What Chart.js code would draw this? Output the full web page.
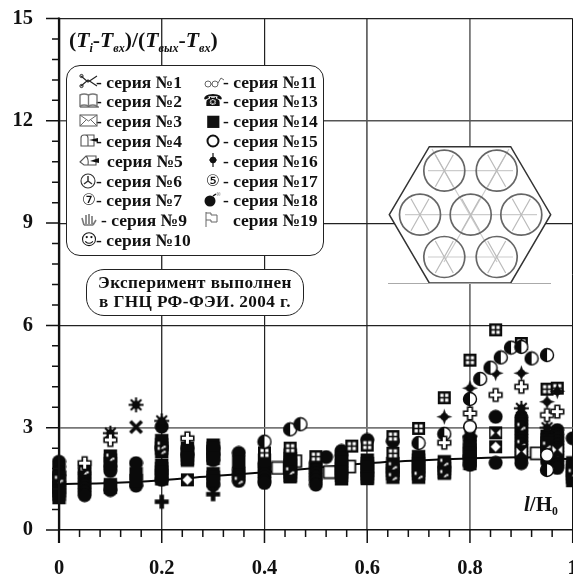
<!DOCTYPE html>
<html><head><meta charset="utf-8">
<script src="https://cdn.jsdelivr.net/npm/chart.js@4"></script>
<style>
html,body{margin:0;padding:0;background:#fff;width:573px;height:579px;overflow:hidden}
#wrap{position:relative;width:573px;height:579px;overflow:hidden;font-family:"Liberation Serif",serif;font-weight:bold;color:#111}
canvas{position:absolute;left:0;top:0}
.abs{position:absolute;white-space:nowrap}
.box{position:absolute;background:#fff;border:1.6px solid #222;box-sizing:border-box}
.lg{position:absolute;font-size:17.5px;line-height:20px;white-space:pre}
.ic{position:absolute;font-family:"DejaVu Sans";font-weight:normal;font-size:16px;line-height:20px;text-align:center}
sub{font-size:56%;line-height:0;vertical-align:-0.38em}
</style></head><body>
<div id="wrap"><canvas id="c" width="600" height="579"></canvas>
<svg class="abs" style="left:0;top:0" width="573" height="579" id="hex"></svg>
<div class="abs" style="left:69px;top:28px;font-size:21.7px;line-height:24px"><span id="ttl"></span></div>
<div class="box" id="legendBox" style="left:66px;top:65px;width:258px;height:191px;border-radius:14px"></div>
<div class="box" style="left:86px;top:269px;width:218px;height:47px;border-radius:18px;text-align:center;font-size:17.2px;line-height:18.5px;padding-top:4px;letter-spacing:.4px">Эксперимент выполнен<br>в ГНЦ РФ-ФЭИ. 2004 г.</div>
<div class="abs" style="left:524px;top:492px;font-size:21px;line-height:24px"><i>l</i>/H<sub>0</sub></div>
</div>
<script>
// ---- axis labels and ticks ----
const xMajor = [0, 0.2, 0.4, 0.6, 0.8, 1];
const xMinor = [0.04, 0.08, 0.12, 0.16, 0.24, 0.28, 0.32, 0.36, 0.44, 0.48, 0.52, 0.56, 0.64, 0.68, 0.72, 0.76, 0.84, 0.88, 0.92, 0.96];
const yMajor = [0, 3, 6, 9, 12, 15];
const yMinor = [0.6, 1.2, 1.8, 2.4, 3.6, 4.2, 4.8, 5.4, 6.6, 7.2, 7.8, 8.4, 9.6, 10.2, 10.8, 11.4, 12.6, 13.2, 13.8, 14.4];

// ---- series: [l/H0, value] ----
const trendLine = [[0,1.35],[0.1,1.38],[0.2,1.46],[0.3,1.58],[0.4,1.69],[0.5,1.82],[0.6,1.96],[0.7,2.04],[0.8,2.1],[0.9,2.13],[1,2.08]];
const filledCircles = [
 [0,2.0],[0,1.85],[0,1.7],[0,1.6],
 [0.05,1.82],[0.05,1.7],[0.05,1.62],[0.05,1.52],[0.05,1.42],[0.05,1.32],[0.05,1.22],[0.05,1.12],[0.05,1.02],
 [0.1,1.85],[0.1,1.73],[0.1,1.17],[0.15,1.96],[0.15,1.3],
 [0.2,3.03],[0.2,2.4],[0.2,1.47],
 [0.25,2.4],[0.25,2.2],[0.3,2.4],[0.3,2.2],[0.3,2.05],[0.3,1.32],
 [0.35,2.26],[0.35,1.76],[0.35,1.65],[0.35,1.55],[0.35,1.44],
 [0.4,1.94],[0.4,1.84],[0.4,1.74],[0.4,1.64],[0.4,1.54],[0.4,1.44],[0.4,1.38],
 [0.5,1.96],[0.5,1.86],[0.5,1.76],[0.5,1.66],[0.5,1.56],[0.5,1.46],[0.5,1.33],
 [0.52,2.14],[0.55,2.32],[0.55,2.2],[0.6,2.64],
 [0.65,2.6],[0.8,1.91],[0.8,2.15],[0.8,2.7],[0.85,1.97],[0.85,3.32],
 [0.9,3.3],[0.9,3.2],[0.9,3.1],[0.9,3.0],[0.9,2.9],[0.9,2.8],[0.9,2.7],[0.9,2.6],[0.9,2.5],[0.9,2.4],[0.9,2.3],[0.9,2.2],[0.9,2.1],[0.9,1.96],
 [0.95,2.0],
 [0.97,2.93],[0.97,2.8],[0.97,2.7],[0.97,2.6],[0.97,2.5],[0.97,2.4],[0.97,2.3],[0.97,2.2],[0.97,2.1],[0.97,2.0],[0.97,1.9],[0.97,1.82],
 [1,2.69]
];
const filledSquares = [
 [0,1.55],[0,1.45],[0,1.35],[0,1.25],[0,1.15],[0,1.05],[0,0.95],
 [0.1,2.17],[0.1,2.05],[0.1,1.95],[0.1,1.33],[0.1,1.25],[0.15,1.45],[0.15,1.65],
 [0.2,2.62],[0.2,2.5],[0.2,2.4],[0.2,2.3],[0.2,1.9],[0.2,1.8],[0.2,1.7],[0.2,1.6],[0.2,1.5],
 [0.25,2.4],[0.25,2.3],[0.25,2.2],[0.25,2.1],[0.25,2.05],
 [0.3,2.49],[0.3,2.4],[0.3,2.3],[0.3,2.2],[0.3,2.1],[0.3,1.65],[0.3,1.55],[0.3,1.45],
 [0.35,2.0],[0.4,2.05],
 [0.45,2.2],[0.45,2.1],[0.45,2.0],[0.45,1.9],[0.45,1.8],[0.45,1.7],[0.45,1.6],[0.45,1.56],
 [0.55,2.1],[0.55,2.0],[0.55,1.9],[0.55,1.8],[0.55,1.7],[0.55,1.6],[0.55,1.5],
 [0.6,2.05],[0.6,1.95],[0.6,1.85],[0.6,1.75],[0.6,1.65],[0.6,1.55],[0.6,1.51],
 [0.65,1.95],[0.65,1.85],[0.65,1.75],[0.65,1.65],[0.65,1.55],
 [0.7,2.15],[0.7,2.05],[0.7,1.95],[0.7,1.85],[0.7,1.75],[0.7,1.65],[0.7,1.55],
 [0.75,2.0],[0.75,1.9],[0.75,1.8],[0.75,1.7],[0.75,1.67],
 [0.8,2.55],[0.8,2.45],[0.8,2.35],[0.8,2.25],[0.8,2.15],[0.8,2.05],[0.8,1.95],
 [0.95,2.75],[0.95,2.65],[0.95,2.55],[0.95,2.45],[0.95,2.35],[0.95,2.3],
 [1,1.97],[1,1.85],[1,1.75],[1,1.65],[1,1.55],[1,1.45]
];
const speckMarks = [[0.05,1.75],[0.1,2.15],[0.2,2.5],[0.2,2.35],[0.35,1.47],[0.65,1.9],[0.65,1.58],[0.7,1.62],[0.75,2.0],[0.75,1.67],[0.9,3.05],[0.9,2.55],[0.95,2.5],[0.97,2.3],[1,1.7],[0,1.5],[0.45,1.75]];
const openSquares = [[0.426,1.82],[0.46,2.02],[0.527,1.7],[0.565,1.86],[0.93,2.25]];
const gridSquares = [[0.85,5.87],[0.9,5.47],[0.8,4.98],[0.75,3.88],[0.7,2.98],[0.95,4.13],[0.97,4.16],[0.65,2.74],[0.57,2.46],[0.5,2.15],[0.4,2.26],[0.45,2.4],[0.6,2.49],[0.65,2.25]];
const diamondSquares = [[0.85,2.44],[0.25,1.47]];
const bowSquares = [[0.85,2.85],[0.9,2.3],[0.97,2.35]];
const halfCircles = [[0.45,2.95],[0.47,3.1],[0.82,4.43],[0.84,4.76],[0.86,5.06],[0.88,5.35],[0.9,5.37],[0.92,5.03],[0.95,5.13],[0.8,3.84],[0.75,2.82],[0.7,2.55],[0.4,2.59],[0.95,1.76]];
const openCircles = [[0.8,3.03],[0.95,2.2]];
const sparkStars = [[0.8,4.16],[0.85,4.6],[0.9,4.6],[0.95,3.76],[0.75,3.32],[0.97,4.07]];
const openPlus = [[0.05,1.96],[0.1,2.64],[0.25,2.69],[0.75,2.56],[0.8,3.42],[0.85,3.96],[0.9,4.2],[0.95,3.37],[0.97,3.47]];
const solidPlus = [[0.2,0.83],[0.3,1.05]];
const asterisks = [[0.1,2.84],[0.15,3.67],[0.2,3.2],[0.9,3.57],[0.95,3.0],[0.8,2.75]];
const crosses = [[0.15,3.02]];

// ---- marker images (glyphs, not positions) ----
const INK = '#0a0a0a';
function sprite(w, paint){
  const s=document.createElement('canvas'); s.width=w; s.height=w;
  const g=s.getContext('2d'); g.translate(w/2,w/2); g.fillStyle=INK; g.strokeStyle=INK; paint(g); return s;
}
const mCircle = sprite(15,g=>{g.beginPath();g.arc(0,0,7,0,7);g.fill();});
const mSquare = sprite(15,g=>{g.fillRect(-6.7,-6.7,13.4,13.4);});
const mSpeck = sprite(15,g=>{g.fillStyle='#fff';g.fillRect(-4,-3,2,3);g.fillRect(2,1,2,2);g.beginPath();g.moveTo(-1,4);g.lineTo(2,1);g.lineTo(2,4);g.fill();});
const mOpenSq = sprite(15,g=>{g.fillStyle='#fff';g.fillRect(-6,-6,12,12);g.lineWidth=1.7;g.strokeRect(-6,-6,12,12);});
const mGridSq = sprite(15,g=>{g.fillRect(-6.5,-6.5,13,13);g.fillStyle='#fff';[-4,0.8].forEach(a=>[-4,0.8].forEach(b=>g.fillRect(a,b,3.2,3.2)));});
const mDiaSq = sprite(15,g=>{g.fillRect(-6.5,-6.5,13,13);g.fillStyle='#fff';g.beginPath();g.moveTo(0,-5);g.lineTo(5,0);g.lineTo(0,5);g.lineTo(-5,0);g.fill();});
const mBowSq = sprite(15,g=>{g.fillRect(-6.5,-6.5,13,13);g.fillStyle='#fff';g.beginPath();g.moveTo(-5,-4);g.lineTo(-1,0);g.lineTo(-5,4);g.fill();g.beginPath();g.moveTo(5,-4);g.lineTo(1,0);g.lineTo(5,4);g.fill();});
const mHalf = sprite(16,g=>{g.fillStyle='#fff';g.beginPath();g.arc(0,0,6.5,0,7);g.fill();g.lineWidth=1.4;g.stroke();g.fillStyle=INK;g.beginPath();g.arc(0,0,6.5,Math.PI/2,Math.PI*1.5);g.fill();});
const mOpenC = sprite(16,g=>{g.fillStyle='#fff';g.beginPath();g.arc(0,0,6.3,0,7);g.fill();g.lineWidth=1.6;g.stroke();});
const mSpark = sprite(17,g=>{g.beginPath();[[0,-8],[2,-2],[8,0],[2,2],[0,8],[-2,2],[-8,0],[-2,-2]].forEach((p,i)=>i?g.lineTo(p[0],p[1]):g.moveTo(p[0],p[1]));g.fill();g.beginPath();g.arc(0,0,3.8,0,7);g.fill();});
const plusPath=(g,a,b)=>{g.beginPath();[[-b,-a],[b,-a],[b,-b],[a,-b],[a,b],[b,b],[b,a],[-b,a],[-b,b],[-a,b],[-a,-b],[-b,-b]].forEach((p,i)=>i?g.lineTo(p[1],p[0]):g.moveTo(p[1],p[0]));g.closePath();};
const mOpenP = sprite(17,g=>{plusPath(g,6.3,2.3);g.fillStyle='#fff';g.fill();g.lineWidth=1.6;g.stroke();});
const mSolidP = sprite(17,g=>{plusPath(g,7,2.3);g.fill();});
const mStar = sprite(17,g=>{g.lineWidth=2;g.lineCap='butt';for(let a=0;a<4;a++){g.rotate(Math.PI/4);g.beginPath();g.moveTo(-7.5,0);g.lineTo(7.5,0);g.stroke();}g.beginPath();g.arc(0,0,4.2,0,7);g.fill();});
const mCross = sprite(17,g=>{g.lineWidth=3.6;g.rotate(Math.PI/4);g.beginPath();g.moveTo(-8,0);g.lineTo(8,0);g.moveTo(0,-8);g.lineTo(0,8);g.stroke();});

const toPts = a => a.map(p=>({x:p[0],y:p[1]}));
const layer = (data,img)=>({type:'scatter',data:toPts(data),pointStyle:img,pointRadius:7,showLine:false,clip:false});
const bottomUp = [
  {type:'line',data:toPts(trendLine),borderColor:INK,borderWidth:2,pointRadius:0,tension:0.3,showLine:true},
  layer(openSquares,mOpenSq),
  layer(filledCircles,mCircle), layer(filledSquares,mSquare), layer(speckMarks,mSpeck),
  layer(gridSquares,mGridSq), layer(diamondSquares,mDiaSq), layer(bowSquares,mBowSq),
  layer(asterisks,mStar), layer(crosses,mCross), layer(sparkStars,mSpark),
  layer(openCircles,mOpenC), layer(halfCircles,mHalf), layer(solidPlus,mSolidP), layer(openPlus,mOpenP)
];
const gridStyle = {
  x:{0:['#111',2.2],0.2:['#333',1.4],0.4:['#222',1.2],0.6:['#666',1.8],0.8:['#777',1.8],1:['#111',1]},
  y:{0:['#111',1.5],3:['#777',1.8],6:['#222',1.2],9:['#222',1.2],12:['#555',1.6],15:['#222',1.3]}
};
const isMajor = (arr,v)=>arr.some(m=>Math.abs(m-v)<1e-6);
const gridOpt = (axis,arr)=>({
  drawTicks:false,
  color:c=>{const k=Math.round(c.tick.value*10)/10;return isMajor(arr,c.tick.value)?gridStyle[axis][k][0]:'rgba(0,0,0,0)';},
  lineWidth:c=>{const k=Math.round(c.tick.value*10)/10;return isMajor(arr,c.tick.value)?gridStyle[axis][k][1]:0;}
});
const outerTicks = {
  id:'outerTicks',
  afterDatasetsDraw(ch){
    const g=ch.ctx,a=ch.chartArea,X=ch.scales.x,Y=ch.scales.y;
    g.save();g.strokeStyle='#111';g.lineWidth=1.5;g.beginPath();
    xMajor.forEach(v=>{const p=X.getPixelForValue(v);g.moveTo(p,a.bottom);g.lineTo(p,a.bottom+13);});
    xMinor.forEach(v=>{const p=X.getPixelForValue(v);g.moveTo(p,a.bottom);g.lineTo(p,a.bottom+7);});
    yMajor.forEach(v=>{const p=Y.getPixelForValue(v);g.moveTo(a.left,p);g.lineTo(a.left-13,p);});
    yMinor.forEach(v=>{const p=Y.getPixelForValue(v);g.moveTo(a.left,p);g.lineTo(a.left-7,p);});
    g.stroke();g.lineWidth=2.2;g.beginPath();g.moveTo(a.left,a.top-1);g.lineTo(a.left,a.bottom+13);g.stroke();
    g.restore();
  }
};
const tickFont={family:'"Liberation Serif"',size:20.5,weight:'bold'};
new Chart(document.getElementById('c'),{
  type:'scatter',
  data:{datasets:bottomUp.slice().reverse()},
  plugins:[outerTicks],
  options:{
    responsive:false,animation:false,events:[],
    layout:{padding:{top:18.5,right:27.3,left:0,bottom:0}},
    plugins:{legend:{display:false},tooltip:{enabled:false}},
    scales:{
      x:{type:'linear',min:0,max:1,
        afterBuildTicks:s=>{s.ticks=xMajor.concat(xMinor).sort((a,b)=>a-b).map(v=>({value:v}));},
        afterFit:s=>{s.height=49;s.paddingLeft=0;s.paddingRight=0;},
        grid:gridOpt('x',xMajor),border:{display:false},
        ticks:{autoSkip:false,maxRotation:0,color:'#111',font:tickFont,padding:26,callback:v=>isMajor(xMajor,v)?String(v):''}},
      y:{type:'linear',min:0,max:15,
        afterBuildTicks:s=>{s.ticks=yMajor.concat(yMinor).sort((a,b)=>a-b).map(v=>({value:v}));},
        afterFit:s=>{s.width=59;s.paddingTop=0;s.paddingBottom=0;},
        grid:gridOpt('y',yMajor),border:{display:false},
        ticks:{autoSkip:false,color:'#111',font:tickFont,padding:26,callback:v=>isMajor(yMajor,v)?String(v):''}}
    }
  }
});

// ---- title ----
document.getElementById('ttl').innerHTML='(<i>T<sub>i</sub></i>-<i>T<sub>вх</sub></i>)/(<i>T<sub>вых</sub></i>-<i>T<sub>вх</sub></i>)';

// ---- legend ----
const legendLeft = [
 ['book0',96,'- серия №1'],['book',96,'- серия №2'],['mail',96,'- серия №3'],['box1',96,'- серия №4'],['box2',107,'серия №5'],
 ['radio',96,'- серия №6'],['⑦',96,'- серия №7'],['hand',101,'- серия №9'],['☺',96,'- серия №10']];
const legendRight = [
 ['glass',223,'- серия №11'],['☎',223,'- серия №13'],['■',223,'- серия №14'],['ring',223,'- серия №15'],['target',223,'- серия №16'],
 ['⑤',223,'- серия №17'],['bomb',223,'- серия №18'],['flag',233,'серия №19']];
const icons = {
 book0:'<path d="M2 3 L9 9 L18 3 M2 13 L9 7 L18 13" fill="none" stroke="#222" stroke-width="1.1"/><circle cx="2.5" cy="3" r="1.6" fill="none" stroke="#222"/><circle cx="2.5" cy="13" r="1.6" fill="none" stroke="#222"/>',
 book:'<path d="M1 3 Q5 1 9.5 3 V14 Q5 12 1 14 Z M9.5 3 Q14 1 18 3 V14 Q14 12 9.5 14" fill="none" stroke="#777" stroke-width="1.4"/><path d="M1 15 H20" stroke="#333" stroke-width="1"/>',
 mail:'<rect x="1" y="3" width="17" height="11" fill="none" stroke="#666" stroke-width="1.1"/><path d="M1 3 L9.5 9 L18 3 M1 14 L7 8 M18 14 L12 8" fill="none" stroke="#666" stroke-width="1"/>',
 box1:'<path d="M2 14 V6 Q2 3 5 3 H15 V14 Z M6 3 Q9 3 9 6 V14" fill="none" stroke="#555" stroke-width="1.1"/><path d="M10 8 L19 6 V10 Z" fill="#111"/>',
 box2:'<path d="M1 10 L7 4 H17 V13 H5 Z M7 4 Q10 7 9 13" fill="none" stroke="#555" stroke-width="1.1"/><path d="M11 9 L20 6 V11 Z" fill="#111"/>',
 radio:'<circle cx="9" cy="9" r="7" fill="none" stroke="#333" stroke-width="1.1"/><path d="M9 9 V4 M9 9 L5 12 M9 9 L13 12" stroke="#333" stroke-width="1.5"/>',
 hand:'<path d="M5 14 L3 7 M7 13 V4 M10 13 V3 M13 13 V5 M14 14 L17 9 M5 14 H14" fill="none" stroke="#777" stroke-width="1.6"/>',
 glass:'<circle cx="5" cy="11" r="3" fill="none" stroke="#666"/><circle cx="12" cy="11" r="3" fill="none" stroke="#666"/><path d="M8 11 H9 M15 10 L18 5 L21 7" fill="none" stroke="#666"/>',
 ring:'<circle cx="10" cy="9" r="5.5" fill="none" stroke="#111" stroke-width="2"/>',
 target:'<circle cx="10" cy="8" r="3.2" fill="#111"/><path d="M10 1 V15 M6 8 H14" stroke="#111" stroke-width="1.2"/>',
 bomb:'<circle cx="7" cy="10" r="5.5" fill="#111"/><path d="M10 5 L13 3" stroke="#111" stroke-width="1.5"/><path d="M15 1 V5 M13 3 H18 M14 1 L17 5 M17 1 L14 5" stroke="#aaa" stroke-width=".7"/>',
 flag:'<path d="M3 1 V16 M3 2 H8 V4 H14 V11 H8 V9 H3" fill="none" stroke="#666" stroke-width="1"/>'
};
function addColumn(rows, glyphX){
  const box=document.getElementById('wrap');
  rows.forEach((r,i)=>{
    const y=71.5+i*19.8;
    const t=document.createElement('div');t.className='lg';t.style.left=r[1]+'px';t.style.top=y+'px';t.textContent=r[2];box.appendChild(t);
    if(icons[r[0]]){
      const s=document.createElementNS('http://www.w3.org/2000/svg','svg');
      s.setAttribute('width','22');s.setAttribute('height','18');s.style.cssText='position:absolute;left:'+glyphX+'px;top:'+(y+1)+'px';
      s.innerHTML=icons[r[0]];box.appendChild(s);
    }else{
      const d=document.createElement('div');d.className='ic';d.style.cssText='left:'+glyphX+'px;top:'+y+'px;width:20px';d.textContent=r[0];box.appendChild(d);
    }
  });
}
addColumn(legendLeft,79);
addColumn(legendRight,203);

// ---- fuel-assembly inset ----
const hexCells=[[444.3,170.7],[496.7,170.7],[420,214.7],[470.7,214.7],[521.3,214.7],[444.3,257],[496.7,257]];
let h='<polygon points="389.3,214.7 429.3,146.7 510.7,146.7 550.7,214.7 510.7,283 429.3,283" fill="#fff" stroke="#333" stroke-width="1.5"/>';
h+='<path d="M388 283.5 H551" stroke="#aaa" stroke-width="1.2"/>';
h+='<g stroke="#ccc" stroke-width="1.2" fill="none"><path d="M405 214.7 H537 M428 170.7 H513 M428 257 H513 M432 149 L483 238 L497 262 M509 149 L458 238 L444 262"/></g>';
hexCells.forEach(c=>{
  const [x,y]=c;
  h+='<g stroke="#bbb" stroke-width="1.2"><path d="M'+(x-9)+' '+(y-16)+' L'+(x+9)+' '+(y+16)+' M'+(x+9)+' '+(y-16)+' L'+(x-9)+' '+(y+16)+'"/></g>';
  h+='<circle cx="'+x+'" cy="'+y+'" r="20.5" fill="none" stroke="#666" stroke-width="1.7"/>';
});
document.getElementById('hex').innerHTML=h;
</script>
</body></html>
